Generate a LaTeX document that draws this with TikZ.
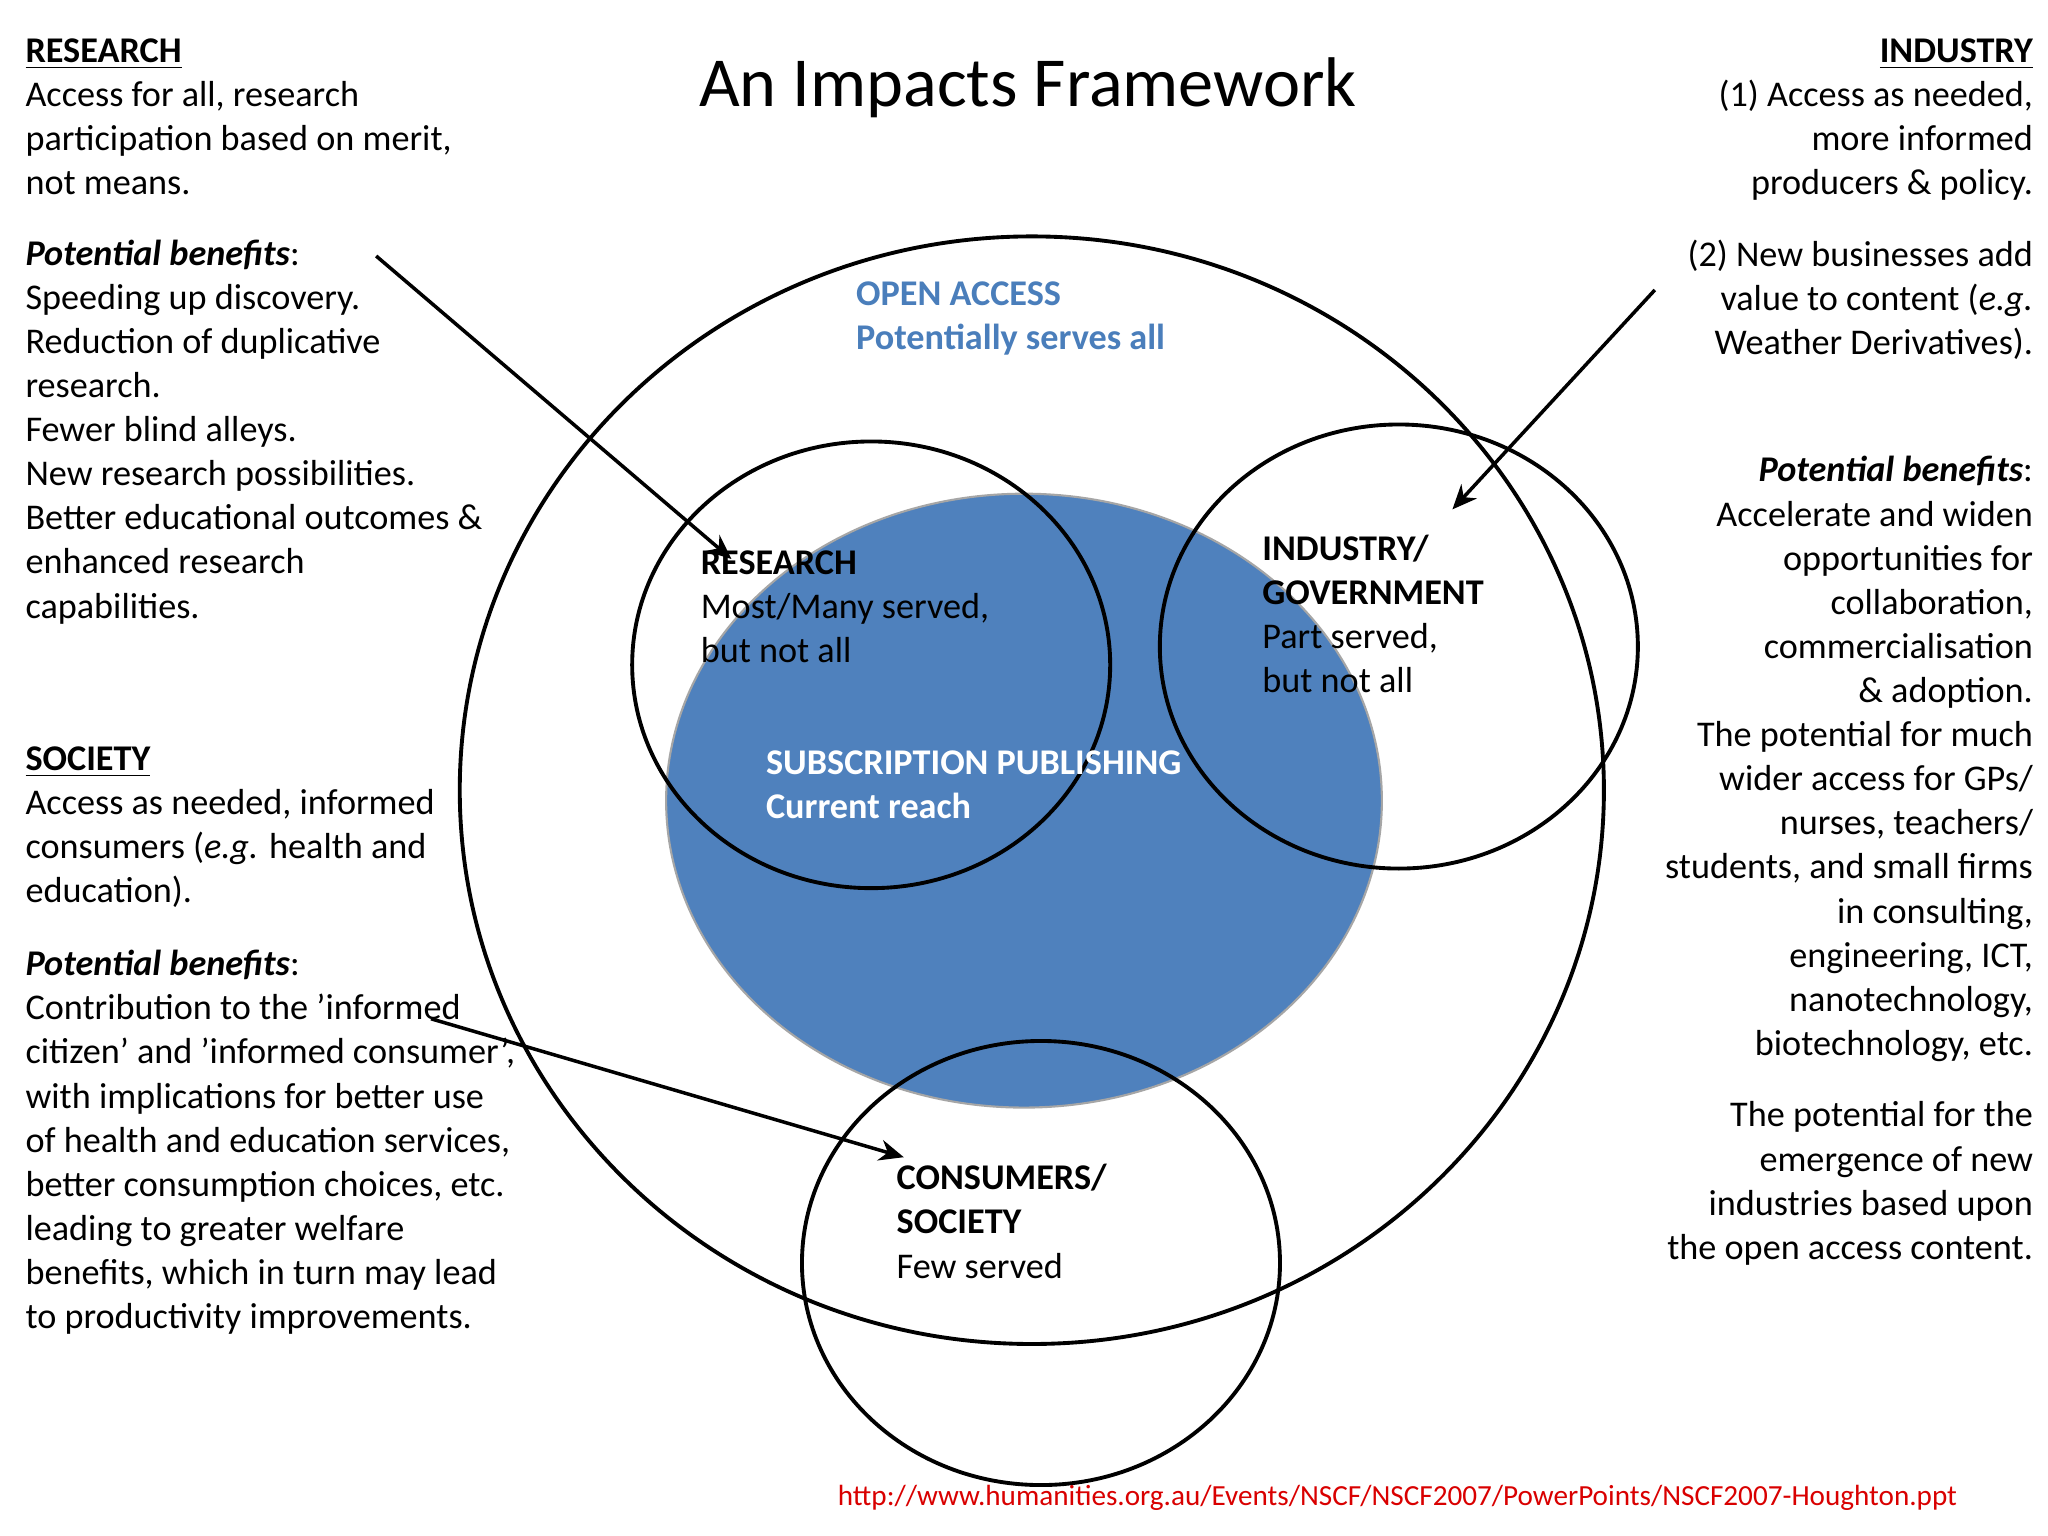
\documentclass[tikz,border=0pt]{standalone}
\usepackage{fontspec}
\usetikzlibrary{arrows.meta}
\setmainfont{Carlito}
\definecolor{oablue}{HTML}{4F81BD}
\definecolor{oatext}{HTML}{4A7EBB}
\begin{document}
\begin{tikzpicture}[x=0.01306cm,y=-0.01306cm,
  txt/.style={inner sep=0pt,font=\fontsize{10.3}{12.55}\selectfont},
  lblock/.style={txt,anchor=north west,align=left},
  rblock/.style={txt,anchor=north east,align=right},
  ring/.style={draw=black,line width=1.1pt},
  arr/.style={draw=black,line width=1pt,-{Stealth[length=7pt,width=6pt]}}]
\useasboundingbox (0,0) rectangle (1568,1176);
\fill[white] (0,0) rectangle (1568,1176);
% shapes
\draw[ring] (790,605) ellipse [x radius=438,y radius=424];
\fill[oablue] (784,613) ellipse [x radius=274,y radius=235];
\draw[gray!70,line width=0.6pt] (784,613) ellipse [x radius=274,y radius=235];
\draw[ring] (667,509) ellipse [x radius=183,y radius=171];
\draw[ring] (1071,495) ellipse [x radius=183,y radius=170];
\draw[ring] (797,967) ellipse [x radius=183,y radius=170];
% title
\node[inner sep=0pt,font=\fontsize{20}{24}\selectfont] (title) at (787,67) {An Impacts Framework};
% left blocks
\node[lblock] (r1) at (19,29) {\textbf{\underline{RESEARCH}}\\Access for all, research\\participation based on merit,\\not means.};
\node[lblock] (r2) at (19,183) {\textbf{\textit{Potential benefits}}:\\Speeding up discovery.\\Reduction of duplicative\\research.\\Fewer blind alleys.\\New research possibilities.\\Better educational outcomes \&\\enhanced research\\capabilities.};
\node[lblock] (s1) at (19,571) {\textbf{\underline{SOCIETY}}\\Access as needed, informed\\consumers (\textit{e.g.} health and\\education).};
\node[lblock] (s2) at (19,727) {\textbf{\textit{Potential benefits}}:\\Contribution to the 'informed\\citizen' and 'informed consumer',\\with implications for better use\\of health and education services,\\better consumption choices, etc.\\leading to greater welfare\\benefits, which in turn may lead\\to productivity improvements.};
% right blocks
\node[rblock] (i1) at (1557,29) {\textbf{\underline{INDUSTRY}}\\(1) Access as needed,\\more informed\\producers \& policy.};
\node[rblock] (i2) at (1557,183) {(2) New businesses add\\value to content (\textit{e.g.}\\Weather Derivatives).};
\node[rblock] (i3) at (1557,349) {\textbf{\textit{Potential benefits}}:\\Accelerate and widen\\opportunities for\\collaboration,\\commercialisation\\\& adoption.\\The potential for much\\wider access for GPs/\\nurses, teachers/\\students, and small firms\\in consulting,\\engineering, ICT,\\nanotechnology,\\biotechnology, etc.};
\node[rblock] (i4) at (1557,843) {The potential for the\\emergence of new\\industries based upon\\the open access content.};
% inner labels
\node[lblock,text=oatext,font=\bfseries\fontsize{10.3}{12.55}\selectfont] (oa) at (655,215) {OPEN ACCESS\\Potentially serves all};
\node[lblock,text=white,font=\bfseries\fontsize{10.3}{12.55}\selectfont] (sub) at (586,574) {SUBSCRIPTION PUBLISHING\\Current reach};
\node[lblock] (res) at (536,421) {\textbf{RESEARCH}\\Most/Many served,\\but not all};
\node[lblock] (ind) at (966,409) {\textbf{INDUSTRY/}\\\textbf{GOVERNMENT}\\Part served,\\but not all};
\node[lblock] (con) at (686,891) {\textbf{CONSUMERS/}\\\textbf{SOCIETY}\\Few served};
% url
\node[inner sep=0pt,text=red!85!black,font=\fontsize{8.3}{10}\selectfont] (url) at (1070,1147) {http://www.humanities.org.au/Events/NSCF/NSCF2007/PowerPoints/NSCF2007-Houghton.ppt};
% arrows
\coordinate (a1s) at (288,196); \coordinate (a1e) at (560,428);
\coordinate (a2s) at (1267,222); \coordinate (a2e) at (1112,390);
\coordinate (a3s) at (330,780); \coordinate (a3e) at (692,886);
\draw[arr] (a1s) -- (a1e);
\draw[arr] (a2s) -- (a2e);
\draw[arr] (a3s) -- (a3e);
\end{tikzpicture}
\end{document}
